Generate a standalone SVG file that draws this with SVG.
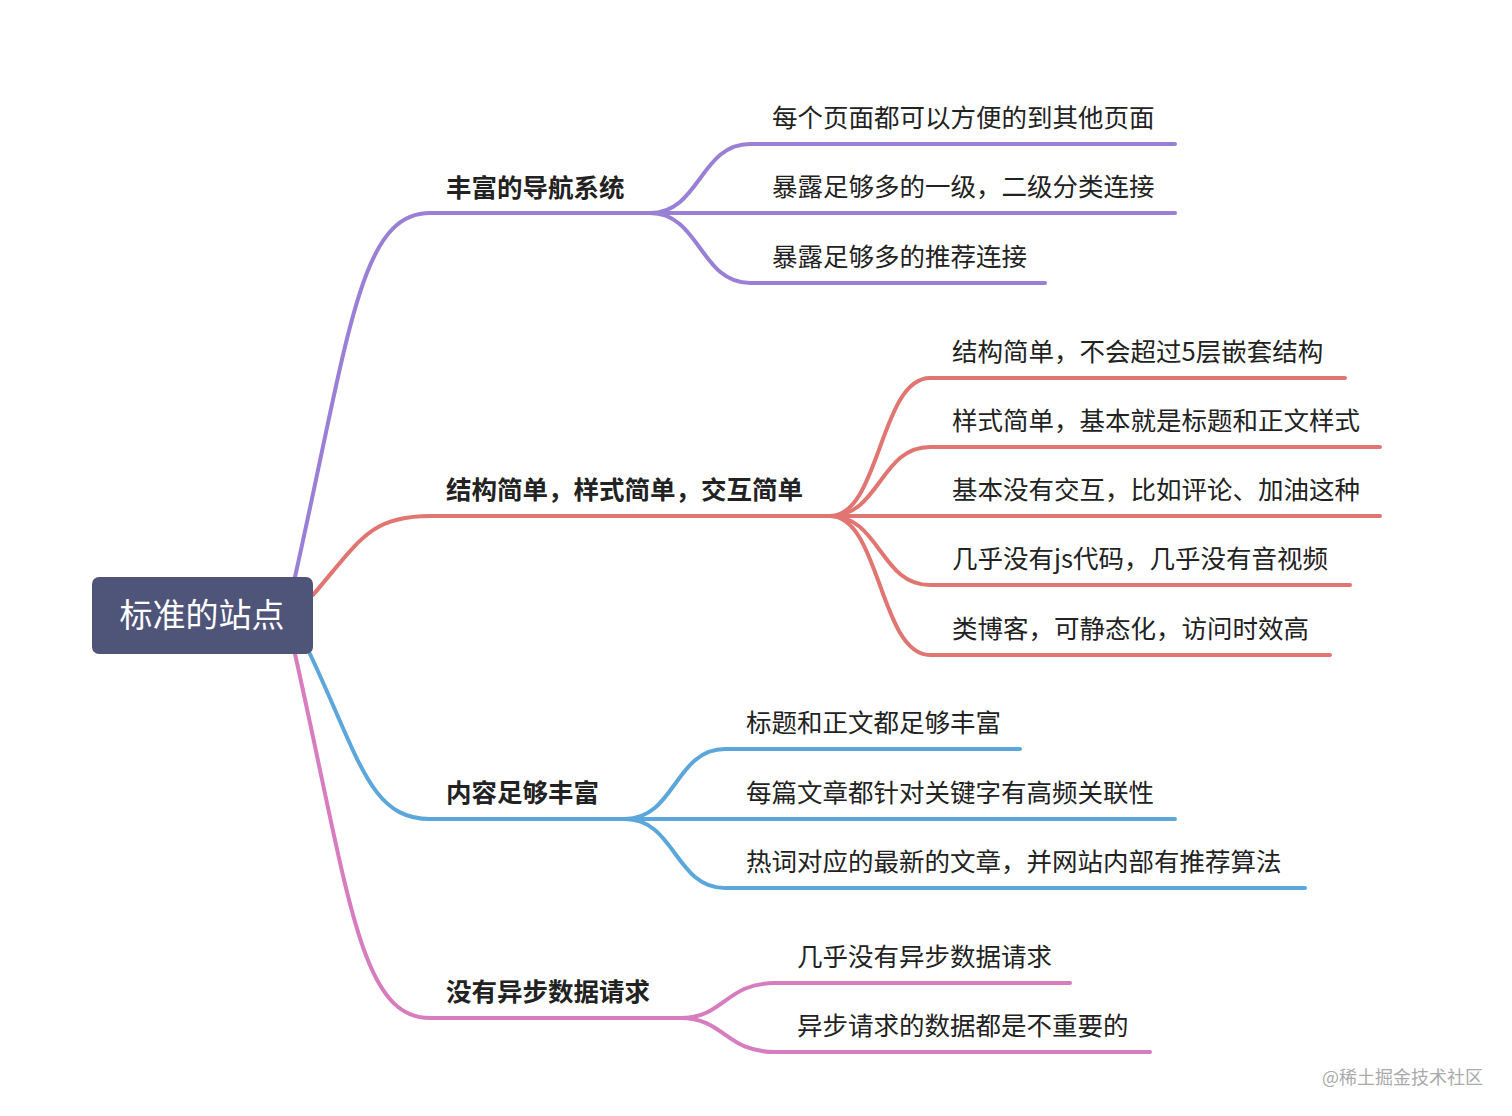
<svg xmlns="http://www.w3.org/2000/svg" width="1512" height="1116" viewBox="0 0 1512 1116">
<style>
.l{fill:none;stroke-width:4;stroke-linecap:round}
.p{stroke:#9a7fd6}.r{stroke:#e07572}.b{stroke:#5ba7dc}.k{stroke:#d77cbf}
text{font-family:"Noto Sans CJK SC","Liberation Sans",sans-serif;fill:#222}
.m{font-size:25.5px;font-weight:bold}
.c{font-size:25.5px}
</style>
<rect width="1512" height="1116" fill="#fff"/>
<g id="connectors">
<path class="l p" d="M295,577 C350,330 360,213 430,213 L650,213"/>
<path class="l p" d="M650,213 C700,213 700,144 750,144 L1175,144"/>
<path class="l p" d="M650,213 L1175,213"/>
<path class="l p" d="M650,213 C700,213 700,283 750,283 L1045,283"/>
<path class="l r" d="M313,595 C360,540 370,516 430,516 L830,516"/>
<path class="l r" d="M830,516 C880,516 880,378 930,378 L1345,378"/>
<path class="l r" d="M830,516 C880,516 880,447 930,447 L1380,447"/>
<path class="l r" d="M830,516 L1380,516"/>
<path class="l r" d="M830,516 C880,516 880,585 930,585 L1350,585"/>
<path class="l r" d="M830,516 C880,516 880,655 930,655 L1330,655"/>
<path class="l b" d="M310,654 C360,760 370,819 430,819 L625,819"/>
<path class="l b" d="M625,819 C675,819 675,749 725,749 L1020,749"/>
<path class="l b" d="M625,819 L1175,819"/>
<path class="l b" d="M625,819 C675,819 675,888 725,888 L1305,888"/>
<path class="l k" d="M295,654 C350,900 360,1018 430,1018 L680,1018"/>
<path class="l k" d="M680,1018 C725,1018 725,983 775,983 L1070,983"/>
<path class="l k" d="M680,1018 C725,1018 725,1052 775,1052 L1150,1052"/>
</g>
<g id="root"><rect x="92" y="577" width="221" height="77" rx="7" fill="#4f5479"/>
<text x="202" y="627" font-size="33" text-anchor="middle" style="fill:#fff">标准的站点</text></g>
<g id="n1"><text class="m" x="446" y="197">丰富的导航系统</text></g>
<g id="n11"><text class="c" x="772" y="127">每个页面都可以方便的到其他页面</text></g>
<g id="n12"><text class="c" x="772" y="196">暴露足够多的一级，二级分类连接</text></g>
<g id="n13"><text class="c" x="772" y="266">暴露足够多的推荐连接</text></g>
<g id="n2"><text class="m" x="446" y="499">结构简单，样式简单，交互简单</text></g>
<g id="n21"><text class="c" x="952" y="361">结构简单，不会超过5层嵌套结构</text></g>
<g id="n22"><text class="c" x="952" y="430">样式简单，基本就是标题和正文样式</text></g>
<g id="n23"><text class="c" x="952" y="499">基本没有交互，比如评论、加油这种</text></g>
<g id="n24"><text class="c" x="952" y="568">几乎没有js代码，几乎没有音视频</text></g>
<g id="n25"><text class="c" x="952" y="638">类博客，可静态化，访问时效高</text></g>
<g id="n3"><text class="m" x="446" y="802">内容足够丰富</text></g>
<g id="n31"><text class="c" x="746" y="732">标题和正文都足够丰富</text></g>
<g id="n32"><text class="c" x="746" y="802">每篇文章都针对关键字有高频关联性</text></g>
<g id="n33"><text class="c" x="746" y="871">热词对应的最新的文章，并网站内部有推荐算法</text></g>
<g id="n4"><text class="m" x="446" y="1001">没有异步数据请求</text></g>
<g id="n41"><text class="c" x="797" y="966">几乎没有异步数据请求</text></g>
<g id="n42"><text class="c" x="797" y="1035">异步请求的数据都是不重要的</text></g>
<text x="1483" y="1084" font-size="18" text-anchor="end" style="fill:#aaa">@稀土掘金技术社区</text>
</svg>
